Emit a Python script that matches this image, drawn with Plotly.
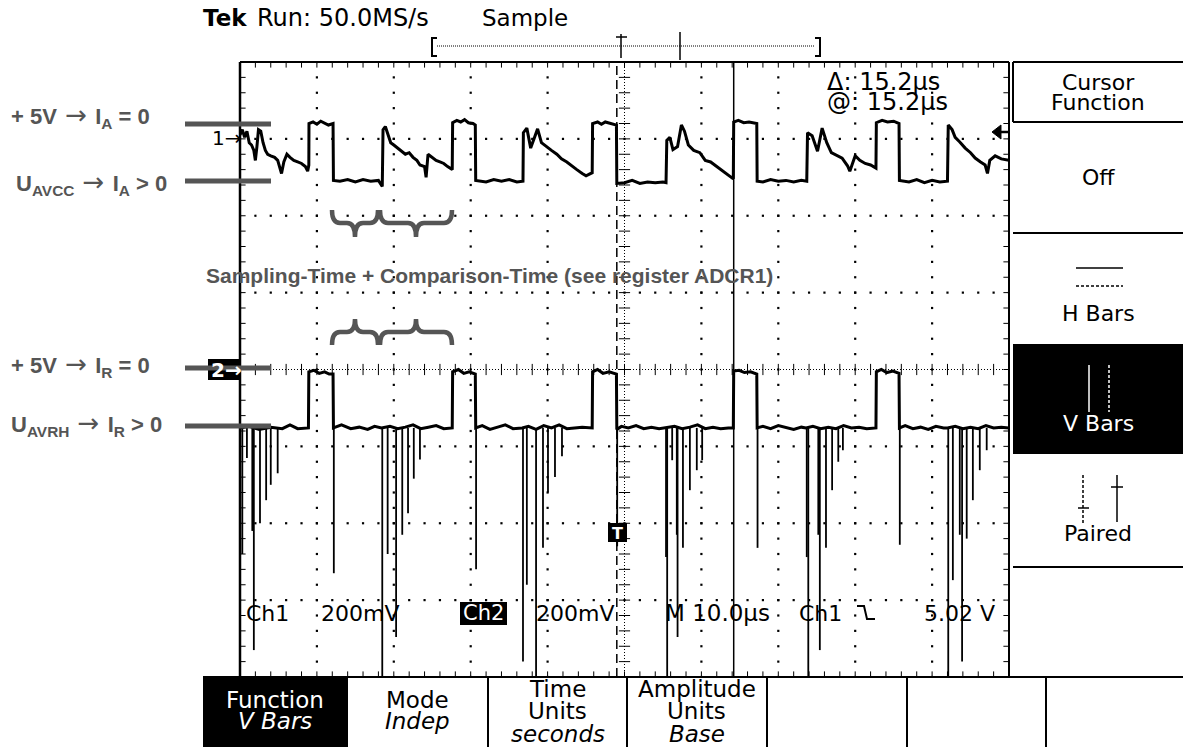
import numpy as np
import plotly.graph_objects as go

W, H = 1183, 747
SX0, SX1, SY0, SY1 = 240, 1009, 62, 677   # scope screen (pixels)

# ---------------- data (time in µs, amplitude in screen divisions) ----------------
CH1 = [(0, 3.05), (0.3, 3.12), (0.6, 3.02), (0.9, 3.10), (1.2, 2.95), (1.5, 2.92), (1.8, 2.85), (2.0, 2.72),
       (2.2, 2.90), (2.4, 3.12), (2.7, 3.10), (3.0, 2.95), (3.3, 2.85), (3.6, 2.80), (4.0, 2.78), (4.5, 2.76),
       (4.9, 2.72), (5.2, 2.62), (5.4, 2.55), (5.7, 2.70), (6.1, 2.80), (6.5, 2.76), (7.0, 2.72), (7.5, 2.70),
       (8.0, 2.68), (8.5, 2.64), (8.8, 2.58), (8.95, 2.66),
       (8.97, 3.20), (9.5, 3.22), (10.0, 3.19), (10.5, 3.23), (11.0, 3.21), (11.5, 3.18), (12.1, 3.20),
       (12.15, 2.46), (13, 2.45), (14, 2.47), (15, 2.44), (16, 2.47), (17, 2.45), (18, 2.46), (18.5, 2.38),
       (18.6, 3.12), (18.9, 3.16), (19.3, 3.02), (19.6, 2.95), (20.0, 2.92), (20.5, 2.88), (21, 2.84),
       (21.5, 2.80), (22, 2.82), (22.5, 2.76), (23, 2.72), (23.4, 2.66), (24.0, 2.64), (24.2, 2.50),
       (24.45, 2.80), (25, 2.76), (25.5, 2.72), (26, 2.70), (26.5, 2.68), (27, 2.64), (27.6, 2.60),
       (27.65, 3.21), (28.2, 3.24), (28.7, 3.22), (29.2, 3.25), (29.7, 3.21), (30.3, 3.20), (30.6, 3.18),
       (30.65, 2.46), (32, 2.44), (33, 2.47), (34, 2.45), (35, 2.47), (36, 2.44), (36.8, 2.45),
       (36.85, 3.08), (37.3, 3.14), (37.8, 2.88), (38.2, 2.98), (38.7, 3.13), (39.2, 2.95), (39.8, 2.90),
       (40.5, 2.85), (41.2, 2.80), (41.8, 2.74), (42.5, 2.70), (43.2, 2.64), (43.8, 2.60), (44.5, 2.55),
       (45.0, 2.52), (45.8, 2.56),
       (45.85, 3.20), (46.5, 3.22), (47, 3.19), (47.5, 3.22), (48.2, 3.20), (48.95, 3.18),
       (49.0, 2.42), (50, 2.43), (51, 2.46), (52, 2.42), (53, 2.44), (54, 2.43), (55, 2.44), (55.4, 2.43),
       (55.5, 2.98), (55.9, 3.02), (56.3, 2.86), (56.9, 2.90), (57.4, 3.18), (57.8, 3.10), (58.3, 2.92),
       (59, 2.85), (59.8, 2.82), (60.5, 2.72), (61.2, 2.70), (62, 2.64), (62.8, 2.58), (63.5, 2.52), (64.15, 2.48),
       (64.2, 3.22), (64.8, 3.24), (65.5, 3.21), (66.2, 3.22), (67.2, 3.20),
       (67.25, 2.45), (68, 2.44), (69, 2.47), (70, 2.45), (71, 2.46), (72, 2.44), (73, 2.46), (73.7, 2.45),
       (73.8, 3.08), (74.4, 3.04), (75.1, 2.84), (75.7, 3.14), (76.3, 2.95), (76.9, 2.82), (77.6, 2.78),
       (78.3, 2.75), (79.0, 2.65), (79.3, 2.58), (80.0, 2.78), (80.6, 2.72), (81.3, 2.68), (82.0, 2.66), (82.7, 2.62),
       (82.75, 3.21), (83.5, 3.24), (84.2, 3.22), (85.0, 3.23), (85.7, 3.20),
       (85.75, 2.46), (87, 2.44), (88, 2.47), (89, 2.43), (90, 2.46), (91, 2.44), (92.0, 2.45),
       (92.1, 3.18), (92.6, 3.12), (93.0, 3.02), (93.6, 2.96), (94.3, 2.88), (95, 2.82), (95.6, 2.75),
       (96.3, 2.70), (96.9, 2.66), (97.2, 2.55), (97.5, 2.72), (98.2, 2.78), (99, 2.74), (100, 2.72)]

CH2 = [(0, -0.76), (1.2, -0.74), (2.5, -0.78), (4, -0.75), (5.5, -0.77), (6.5, -0.72), (7.5, -0.77), (8.9, -0.76),
       (8.95, -0.03), (9.6, -0.01), (10.3, -0.05), (11.0, -0.03), (11.6, -0.06), (12.1, -0.06),
       (12.15, -0.76), (13.2, -0.72), (14.4, -0.77), (15.5, -0.75), (16.6, -0.78), (17.5, -0.74), (18.4, -0.76),
       (19.5, -0.74), (20.5, -0.77), (21.5, -0.75), (22.5, -0.72), (23.5, -0.77), (24.5, -0.75), (25.5, -0.73),
       (26.5, -0.77), (27.6, -0.76),
       (27.65, -0.03), (28.4, 0.0), (29.1, -0.05), (29.8, -0.03), (30.6, -0.06),
       (30.65, -0.76), (31.5, -0.73), (32.5, -0.78), (33.5, -0.75), (34.5, -0.72), (35.5, -0.77), (36.7, -0.76),
       (37.5, -0.74), (38.5, -0.78), (39.5, -0.73), (40.5, -0.76), (41.5, -0.72), (42.5, -0.77), (43.5, -0.76),
       (44.5, -0.75), (45.8, -0.76),
       (45.85, -0.03), (46.5, 0.0), (47.2, -0.05), (48.0, -0.03), (48.95, -0.06),
       (49.0, -0.78), (49.6, -0.74), (50.5, -0.76), (51.5, -0.73), (52.5, -0.77), (53.5, -0.75), (54.5, -0.77),
       (55.3, -0.76), (56.5, -0.74), (57.5, -0.77), (58.5, -0.75), (59.5, -0.72), (60.5, -0.77), (61.5, -0.75),
       (62.5, -0.77), (63.5, -0.76), (64.15, -0.76),
       (64.2, -0.02), (64.9, -0.01), (65.6, -0.04), (66.4, -0.03), (67.2, -0.06),
       (67.25, -0.76), (68, -0.74), (69, -0.77), (70, -0.73), (71, -0.76), (72, -0.78), (73, -0.75), (73.6, -0.76),
       (74.5, -0.74), (75.5, -0.77), (76.5, -0.75), (77.5, -0.77), (78.5, -0.73), (79.5, -0.76), (80.5, -0.75),
       (81.5, -0.77), (82.7, -0.76),
       (82.75, -0.03), (83.4, 0.0), (84.1, -0.04), (84.9, -0.02), (85.7, -0.05),
       (85.75, -0.76), (86.5, -0.73), (87.5, -0.77), (88.5, -0.75), (89.5, -0.78), (90.5, -0.74), (91.5, -0.76),
       (92.0, -0.76), (93, -0.74), (94, -0.77), (95, -0.75), (96, -0.77), (97, -0.73), (98, -0.76), (99, -0.75),
       (100, -0.76)]

CH2_LOW = -0.76
SPIKES = [(0.3, -2.4), (0.9, -1.15), (1.6, -2.1), (1.8, -3.65), (2.6, -2.0), (3.4, -1.7), (4.0, -1.5), (4.9, -1.35),
          (12.2, -2.65),
          (18.5, -4.3), (19.2, -2.4), (20.3, -3.48), (21.1, -2.15), (21.85, -1.87), (22.6, -1.42), (23.4, -1.17),
          (30.7, -2.6),
          (36.8, -3.8), (37.3, -2.8), (38.5, -4.3), (39.4, -2.32), (40.05, -1.6), (40.96, -1.4), (41.87, -1.13),
          (49.05, -2.3),
          (55.4, -2.44), (55.55, -4.3), (56.2, -1.18), (56.8, -2.15), (56.9, -3.48), (57.6, -2.32), (58.5, -1.57),
          (59.4, -1.31), (60.1, -1.18),
          (67.3, -2.32),
          (73.7, -2.44), (73.9, -4.3), (75.2, -2.15), (75.4, -3.65), (76.2, -2.32), (77.0, -1.57), (77.8, -1.2),
          (78.4, -1.05),
          (85.8, -2.28),
          (92.1, -4.3), (92.7, -2.74), (93.6, -2.15), (93.9, -3.8), (94.5, -2.2), (95.3, -1.7), (96.2, -1.31),
          (97.1, -1.05)]

CURSOR_A = 49.0   # µs (dashed)
CURSOR_B = 64.2   # µs (solid)

READOUT_DELTA = "Δ: 15.2µs"
READOUT_AT = "@: 15.2µs"
HEADER = ["Tek", "Run: 50.0MS/s", "Sample"]
SIDE_MENU = ["Cursor", "Function", "Off", "H Bars", "V Bars", "Paired"]
BOTTOM_MENU = [["Function", "V Bars"], ["Mode", "Indep"], ["Time", "Units", "seconds"], ["Amplitude", "Units", "Base"]]
GRAY = "#555555"
TEK = "DejaVu Sans"
ARIAL = "Liberation Sans, Arial"

# ---------------- helpers ----------------
def px(x):
    return x / W

def py(y):
    return 1 - y / H

shapes, anns = [], []

def line(x0, y0, x1, y1, color="black", width=1, dash=None):
    d = dict(type="line", xref="paper", yref="paper", x0=px(x0), y0=py(y0), x1=px(x1), y1=py(y1),
             line=dict(color=color, width=width))
    if dash:
        d["line"]["dash"] = dash
    shapes.append(d)

def rect(x0, y0, x1, y1, fill="black", lc="black", lw=0):
    shapes.append(dict(type="rect", xref="paper", yref="paper", x0=px(x0), y0=py(y1), x1=px(x1), y1=py(y0),
                       fillcolor=fill, line=dict(color=lc, width=lw), layer="above"))

def path(pts, color="black", width=1, fill=None):
    s = ""
    for c, p in pts:
        s += c + " " + " ".join(f"{px(p[i]):.5f},{py(p[i+1]):.5f}" for i in range(0, len(p), 2)) + " "
    d = dict(type="path", xref="paper", yref="paper", path=s.strip(), line=dict(color=color, width=width))
    if fill:
        d["fillcolor"] = fill
    shapes.append(d)

def txt(s, x, y, size=22, color="black", anchor="left", family=TEK, italic=False, bold=False):
    if bold:
        s = "<b>" + s + "</b>"
    anns.append(dict(text=s, x=px(x), y=py(y), xref="paper", yref="paper", xanchor=anchor, yanchor="middle",
                     showarrow=False, borderpad=0,
                     font=dict(size=size, color=color, family=family,
                               style="italic" if italic else "normal")))

def brace(x0, x1, y_end, y_mid, y_tip, color=GRAY, width=4.5):
    xm = (x0 + x1) / 2
    r = 8
    path([("M", (x0, y_end)), ("Q", (x0, y_mid, x0 + r, y_mid)), ("L", (xm - r, y_mid)),
          ("Q", (xm, y_mid, xm, y_tip)), ("Q", (xm, y_mid, xm + r, y_mid)), ("L", (x1 - r, y_mid)),
          ("Q", (x1, y_mid, x1, y_end))], color=color, width=width)

ARROW = '<span style="font-family:DejaVu Sans;font-weight:normal;font-size:26px"> → </span>'

fig = go.Figure()

# ---------------- graticule ----------------
xmin = np.round(np.arange(0, 100.001, 2), 3)
ymin = np.round(np.arange(-4, 4.001, 0.2), 3)
gx, gy = [], []
for t in range(10, 100, 10):
    if t == 50:
        continue
    gx += [t] * len(ymin); gy += list(ymin)
for v in range(-3, 4):
    if v == 0:
        continue
    gx += list(xmin); gy += [v] * len(xmin)
fig.add_trace(go.Scatter(x=gx, y=gy, mode="markers", hoverinfo="skip",
                         marker=dict(symbol="square", size=2.2, color="black", line=dict(width=0))))
# centre lines
fig.add_trace(go.Scatter(x=[50, 50], y=[-4, 4], mode="lines", hoverinfo="skip",
                         line=dict(color="black", width=1, dash="1px,2px")))
fig.add_trace(go.Scatter(x=[0, 100], y=[0, 0], mode="lines", hoverinfo="skip",
                         line=dict(color="black", width=1, dash="1px,2px")))
fig.add_trace(go.Scatter(x=[50] * len(ymin), y=ymin, mode="markers", hoverinfo="skip",
                         marker=dict(symbol="line-ew", size=8, line=dict(color="black", width=1))))
fig.add_trace(go.Scatter(x=xmin, y=[0] * len(xmin), mode="markers", hoverinfo="skip",
                         marker=dict(symbol="line-ns", size=8, line=dict(color="black", width=1))))
# border ticks
fig.add_trace(go.Scatter(x=list(xmin) * 2, y=[4] * len(xmin) + [-4] * len(xmin), mode="markers",
                         hoverinfo="skip", marker=dict(symbol="line-ns", size=8, line=dict(color="black", width=1))))
fig.add_trace(go.Scatter(x=[0] * len(ymin) + [100] * len(ymin), y=list(ymin) * 2, mode="markers",
                         hoverinfo="skip", marker=dict(symbol="line-ew", size=8, line=dict(color="black", width=1))))

# ---------------- traces ----------------
fig.add_trace(go.Scatter(x=[p[0] for p in CH1], y=[p[1] for p in CH1], mode="lines",
                         line=dict(color="black", width=3), name="Ch1"))
sx, sy = [], []
for t, d in SPIKES:
    sx += [t, t, None]; sy += [CH2_LOW, d, None]
fig.add_trace(go.Scatter(x=sx, y=sy, mode="lines", line=dict(color="black", width=1.8), name="Ch2 spikes"))
fig.add_trace(go.Scatter(x=[p[0] for p in CH2], y=[p[1] for p in CH2], mode="lines",
                         line=dict(color="black", width=3), name="Ch2"))
# cursors
fig.add_trace(go.Scatter(x=[CURSOR_A, CURSOR_A], y=[-4, 4], mode="lines",
                         line=dict(color="black", width=1.5, dash="9px,5px")))
fig.add_trace(go.Scatter(x=[CURSOR_B, CURSOR_B], y=[-4, 4], mode="lines",
                         line=dict(color="black", width=1.5)))

# ---------------- screen frame & menus ----------------
line(SX0, SY0, SX1, SY0, width=2)
line(SX0, SY0, SX0, SY1, width=2.5)
line(SX1, SY0, SX1, SY1, width=2)
line(203, SY1, W, SY1, width=2)
# right side menu
line(1013, 62, W, 62, width=2)
line(1013, 62, 1013, 122, width=2)
line(1013, 122, W, 122, width=2)
line(1013, 233, W, 233, width=2)
line(1013, 567, W, 567, width=2)
rect(1013, 344, W, 454)
# H bars icon
line(1076, 268, 1123, 268, width=1.5)
line(1076, 286, 1123, 286, width=1.5, dash="3px,2px")
# V bars icon (white on black)
line(1089, 365, 1089, 412, color="white", width=1.5)
line(1109, 365, 1109, 412, color="white", width=1.5, dash="3px,2px")
# paired icon
line(1083, 475, 1083, 523, width=1.5, dash="3px,2px")
line(1078, 508, 1089, 508, width=1.5)
line(1117, 475, 1117, 522, width=1.5)
line(1111, 487, 1123, 487, width=1.5)
# bottom menu
rect(203, 678, 347, H)
for xs in [347, 488, 627, 767, 907, 1046]:
    line(xs, SY1, xs, H, width=2)
# record view bracket
path([("M", (437, 38)), ("L", (432, 38)), ("L", (432, 56)), ("L", (437, 56))], width=2)
path([("M", (815, 38)), ("L", (820, 38)), ("L", (820, 56)), ("L", (815, 56))], width=2)
line(437, 46, 815, 46, width=1, dash="1px,1px")
line(621, 34, 621, 58, width=1.5)
line(616, 37, 627, 37, width=1.5)
line(680, 32, 680, 60, width=1.5)
# channel markers
rect(208, 359, 240, 380)
rect(608, 523, 627, 542)
rect(460, 602, 507, 625)
# trigger level arrow
line(998, 132, 1008, 132, width=2.5)
path([("M", (992, 132)), ("L", (1001, 125)), ("L", (1001, 139)), ("Z", ())], width=1, fill="black")
# falling-edge trigger glyph
path([("M", (857, 606)), ("L", (864, 606)), ("L", (867, 619)), ("L", (875, 619))], width=2)

# ---------------- annotations (grey overlay) ----------------
for yb in [124, 181, 368, 426]:
    line(185, yb, 271, yb, color=GRAY, width=5)
brace(332, 378, 210, 223, 237)
brace(380, 452, 210, 223, 237)
brace(332, 378, 345, 332, 319)
brace(380, 452, 345, 332, 319)

txt("+ 5V" + ARROW + "I<sub>A</sub> = 0", 10, 116, 22, GRAY, family=ARIAL, bold=True)
txt("U<sub>AVCC</sub>" + ARROW + "I<sub>A</sub> > 0", 15, 183, 22, GRAY, family=ARIAL, bold=True)
txt("+ 5V" + ARROW + "I<sub>R</sub> = 0", 10, 365, 22, GRAY, family=ARIAL, bold=True)
txt("U<sub>AVRH</sub>" + ARROW + "I<sub>R</sub> > 0", 10, 424, 22, GRAY, family=ARIAL, bold=True)
txt("Sampling-Time + Comparison-Time (see register ADCR1)", 489, 276, 21, GRAY, anchor="center",
    family=ARIAL, bold=True)

# ---------------- scope texts ----------------
txt(HEADER[0], 202, 18, 23, bold=True)
txt(HEADER[1], 256, 18, 24)
txt(HEADER[2], 481, 18, 23)
txt(READOUT_DELTA, 826, 82, 24)
txt(READOUT_AT, 826, 102, 24)
txt("1→", 211, 138, 20)
txt("2→", 210, 370, 20, color="white", bold=True)
txt("T", 617.5, 533, 16, color="white", anchor="center", bold=True)
txt("Ch1", 245, 613, 22)
txt("200mV", 320, 613, 22)
txt("Ch2", 483.5, 613, 21, color="white", anchor="center")
txt("200mV", 535, 613, 22)
txt("M 10.0µs", 664, 613, 23)
txt("Ch1", 798, 613, 22)
txt("5.02 V", 923, 613, 22)

cx = (1013 + W) / 2
txt(SIDE_MENU[0], cx, 82, 22, anchor="center")
txt(SIDE_MENU[1], cx, 103, 22, anchor="center")
txt(SIDE_MENU[2], cx, 178, 22, anchor="center")
txt(SIDE_MENU[3], cx, 313, 22, anchor="center")
txt(SIDE_MENU[4], cx, 424, 22, anchor="center", color="white")
txt(SIDE_MENU[5], cx, 533, 22, anchor="center")

centers = [275, 417.5, 557.5, 697]
for i, (c, words) in enumerate(zip(centers, BOTTOM_MENU)):
    col = "white" if i == 0 else "black"
    ys = [700, 721] if len(words) == 2 else [689, 711, 734]
    for j, (w, yy) in enumerate(zip(words, ys)):
        txt(w, c, yy, 23, color=col, anchor="center", italic=(j == len(words) - 1))

fig.update_layout(
    width=W, height=H, margin=dict(l=0, r=0, t=0, b=0),
    paper_bgcolor="white", plot_bgcolor="white", showlegend=False,
    xaxis=dict(domain=[px(SX0), px(SX1)], range=[0, 100], visible=False, fixedrange=True),
    yaxis=dict(domain=[py(SY1), py(SY0)], range=[-4, 4], visible=False, fixedrange=True),
    shapes=shapes, annotations=anns,
)
fig.write_html("out.html", config={"displayModeBar": False})
